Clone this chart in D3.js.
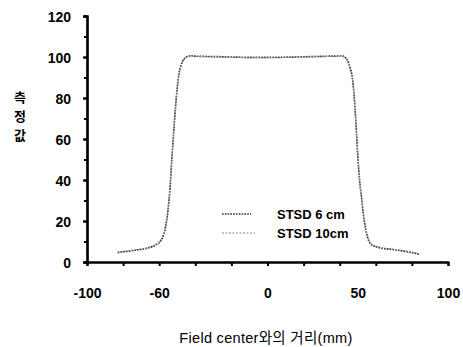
<!DOCTYPE html>
<html>
<head>
<meta charset="utf-8">
<script src="https://cdn.jsdelivr.net/npm/d3@7"></script>
<style>
  body { margin: 0; background: #fff; }
  svg { display: block; }
  .tick text { font-family: "Liberation Sans", Arial, sans-serif; font-weight: bold; font-size: 14px; fill: #000; }
</style>
</head>
<body>
<div id="chart"></div>
<script>
// distance from field center (mm)
const distance = [-83, -78, -72, -66, -62, -59, -57, -56, -55, -54, -53, -52, -51, -50, -49, -48, -47, -46, -44, -42, -40,
  -30, -20, -10, 0, 10, 20, 30, 40, 42, 44, 45, 46, 47, 48, 49, 50, 51, 52, 53, 54, 55, 56, 58, 62, 70, 78, 84];
const stsd6 = [4.6, 5.2, 5.9, 6.9, 8.3, 10.5, 15, 19.5, 26, 36, 50, 63, 75, 85, 92, 95.5, 98, 99.2, 100.3, 100.6, 100.4,
  100.2, 100, 99.8, 99.8, 99.9, 100.1, 100.3, 100.5, 100.4, 98.8, 97, 94, 90, 81, 68, 52, 40, 32, 24, 18, 13.5, 10.5, 8.2, 7, 6, 4.9, 3.8];
const stsd10 = [4.8, 5.4, 6.1, 7.1, 8.6, 10.9, 15.6, 20.2, 26.8, 36.8, 50.5, 63.4, 75.2, 85.1, 91.8, 95.4, 97.8, 99.1, 100.1, 100.4, 100.3,
  100.1, 99.9, 99.7, 99.7, 99.8, 100.0, 100.2, 100.4, 100.2, 98.6, 96.8, 93.8, 89.6, 80.6, 67.6, 51.6, 40.2, 32.4, 24.6, 18.6, 14, 11, 8.5, 7.2, 6.2, 5.1, 4];
const seriesNames = ["STSD 6 cm", "STSD 10cm"];
const xLabelTicks = [-100, -60, 0, 50, 100];
const xMinorTicks = d3.range(-100, 101, 20);
const yLabelTicks = d3.range(0, 121, 20);
const yMinorTicks = d3.range(0, 121, 10);

const W = 463, H = 347;
const svg = d3.select("#chart").append("svg").attr("width", W).attr("height", H);

const x = d3.scaleLinear().domain([-100, 100]).range([87, 448]);
const y = d3.scaleLinear().domain([0, 120]).range([262, 16]);

// curves
const line = d3.line().x(d => x(d[0])).y(d => y(d[1])).curve(d3.curveMonotoneX);
const seriesData = [stsd6, stsd10].map(vals => distance.map((d, i) => [d, vals[i]]));
const seriesStyle = [
  { stroke: "#333", dash: "1.6,1.2", width: 1.7 },
  { stroke: "#888", dash: "2,1.5", width: 1.1 }
];
seriesData.forEach((s, i) => {
  svg.append("path").datum(s)
    .attr("fill", "none")
    .attr("stroke", seriesStyle[i].stroke)
    .attr("stroke-width", seriesStyle[i].width)
    .attr("stroke-dasharray", seriesStyle[i].dash)
    .attr("d", line);
});

// axes
const fmt = d => String(d);
const yMinor = svg.append("g").attr("transform", "translate(87,0)")
  .call(d3.axisLeft(y).tickValues(yMinorTicks).tickSize(3).tickFormat(""));
const yAxis = svg.append("g").attr("transform", "translate(87,0)")
  .call(d3.axisLeft(y).tickValues(yLabelTicks).tickSize(4).tickPadding(12).tickFormat(fmt));
const xMinor = svg.append("g").attr("transform", "translate(0,262)")
  .call(d3.axisBottom(x).tickValues(xMinorTicks).tickSize(4).tickFormat(""));
const xAxis = svg.append("g").attr("transform", "translate(0,262)")
  .call(d3.axisBottom(x).tickValues(xLabelTicks).tickSize(0).tickPadding(26).tickFormat(fmt));
[yMinor, yAxis, xMinor, xAxis].forEach(g => {
  g.select(".domain").attr("stroke", "#000").attr("stroke-width", 2.2);
  g.selectAll(".tick line").attr("stroke", "#000").attr("stroke-width", 2);
});
yAxis.selectAll(".tick text").attr("dy", "0.4em");

// legend
const legend = svg.append("g");
seriesNames.forEach((name, i) => {
  const ly = 214 + i * 19;
  legend.append("line")
    .attr("x1", 222).attr("x2", i === 0 ? 251 : 255)
    .attr("y1", ly).attr("y2", ly)
    .attr("stroke", seriesStyle[i].stroke)
    .attr("stroke-width", seriesStyle[i].width)
    .attr("stroke-dasharray", seriesStyle[i].dash);
  legend.append("text")
    .attr("x", 277).attr("y", ly + 4.5)
    .attr("font-family", "Liberation Sans, Arial, sans-serif")
    .attr("font-weight", "bold").attr("font-size", 13)
    .text(name);
});

// axis titles
svg.append("text")
  .attr("x", 266).attr("y", 343)
  .attr("text-anchor", "middle")
  .attr("font-family", "Liberation Sans, 'Noto Sans CJK KR', sans-serif")
  .attr("font-size", 14.5)
  .attr("letter-spacing", 0.3)
  .text("Field center와의 거리(mm)");

const yTitle = ["측", "정", "값"];
svg.append("g").selectAll("text").data(yTitle).join("text")
  .attr("x", 20).attr("y", (d, i) => 102 + i * 19)
  .attr("text-anchor", "middle")
  .attr("font-family", "'Noto Sans CJK KR', sans-serif")
  .attr("font-weight", "bold").attr("font-size", 13)
  .text(d => d);
</script>
</body>
</html>
